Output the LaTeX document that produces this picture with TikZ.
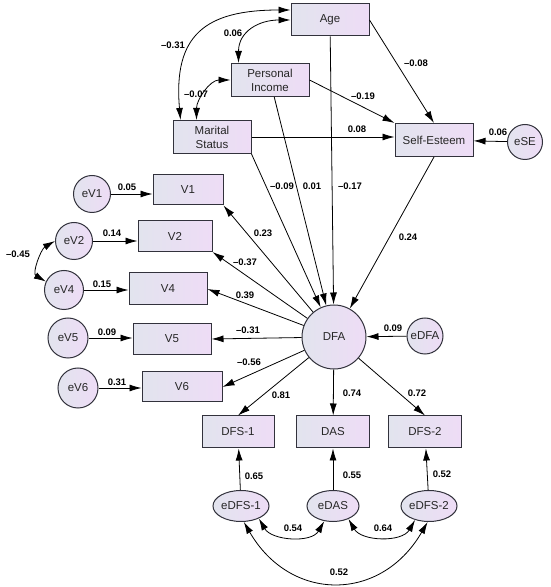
\documentclass[tikz,border=0pt]{standalone}
\usepackage{fontspec}
\setmainfont{Liberation Sans}
\usetikzlibrary{arrows.meta,shapes.geometric}
\definecolor{boxleft}{RGB}{226,228,238}
\definecolor{boxright}{RGB}{238,220,246}
\definecolor{edgegray}{RGB}{50,50,60}

\begin{document}
\begin{tikzpicture}[x=1pt, y=1pt, line width=0.8pt,
    >={Latex[length=12pt,width=7pt]},
    var/.style={draw=edgegray, line width=1pt, left color=boxleft, right color=boxright,
        text=black!85, font=\fontsize{11.5}{14}\selectfont, align=center, inner sep=0pt},
    obs/.style={var, rectangle, minimum width=78pt, minimum height=32pt},
    err/.style={var, circle, minimum size=37pt},
    res/.style={var, ellipse, minimum width=52pt, minimum height=31pt},
    coef/.style={font=\bfseries\fontsize{9.5}{10}\selectfont, inner sep=1pt}]
            \useasboundingbox (0, 0) rectangle (550, 587);
            %\draw[lightgray] (0, 0) grid[step=50] (550, 587);
            \node[obs](age) at (330, 567) {Age};
            \node[obs, minimum height=33pt](income) at (270, 507) {Personal\\Income};
            \node[obs, minimum height=33pt](marital) at (212, 450) {Marital\\Status};
            \node[obs, minimum height=33pt](esteem) at (434, 447) {Self-Esteem};
            \node[err, minimum size=35pt](ese) at (525, 445) {eSE};
            
            \node[obs, minimum width=70pt, minimum height=30pt](v1) at (188, 397) {V1};
            \node[obs, minimum width=74pt, minimum height=31pt](v2) at (175, 351) {V2};
            \node[obs](v4) at (168, 298) {V4};
            \node[obs, minimum height=31pt](v5) at (172, 248) {V5};
            \node[obs, minimum width=80pt, minimum height=30pt](v6) at (182, 200) {V6};
            \node[err](ev1) at (92, 393) {eV1};
            \node[err](ev2) at (74, 346) {eV2};
            \node[err, minimum size=39pt](ev4) at (64, 297) {eV4};
            \node[err, minimum size=40pt](ev5) at (68, 249) {eV5};
            \node[err, minimum size=40pt](ev6) at (78, 199) {eV6};
            
            \node[err, minimum size=64pt](dfa) at (334, 250) {DFA};
            \node[err, minimum size=36pt](edfa) at (425, 251) {eDFA};
            
            \node[obs, minimum width=72pt](dfs1) at (238, 155) {DFS-1};
            \node[obs, minimum width=73pt](das) at (333, 155) {DAS};
            \node[obs, minimum width=73pt](dfs2) at (425, 155) {DFS-2};
            \node[res](edfs1) at (241, 81) {eDFS-1};
            \node[res](edas) at (333, 81) {eDAS};
            \node[res](edfs2) at (429, 81) {eDFS-2};
            
            % covariances
            \draw[<->] ([xshift=8pt]marital.north west) to[out=95, in=180, looseness=1.4] ([yshift=10pt]age.west) node[coef] at (173, 542) {–0.31};
            \draw[<->] ([xshift=8pt]income.north west) to[out=90, in=180, looseness=1.2] (age.west) node[coef] at (233, 554) {0.06};
            \draw[<->] ([xshift=24pt]marital.north west) to[out=90, in=180] (income.west) node[coef] at (196, 493) {–0.07};
            \draw[<->] (ev2.west) to[out=210, in=150] (ev4.155) node[coef] at (18, 333) {–0.45};
            \draw[<->] (edfs1.-35) to[out=-60, in=-120] (edas.-120) node[coef] at (293, 59) {0.54};
            \draw[<->] (edas.-40) to[out=-60, in=-120] (edfs2.-135) node[coef] at (383, 59) {0.64};
            \draw[<->] (edfs1.-80) to[out=-60, in=-120, looseness=1.3] (edfs2.-95) node[coef] at (339, 15) {0.52};
            
            % paths into Self-Esteem and DFA
            \draw[->] (age.east) -- (esteem.north) node[coef] at (416, 524) {–0.08};
            \draw[->] (income.east) -- (esteem.north west) node[coef] at (363, 491) {–0.19};
            \draw[->] (marital.east) -- (marital.east -| esteem.west) node[coef] at (357, 458) {0.08};
            \draw[->] (ese) -- (esteem) node[coef] at (498, 455) {0.06};
            \draw[->] (marital.south east) -- (dfa) node[coef] at (282, 401) {–0.09};
            \draw[->] (income) -- (dfa) node[coef] at (312, 401) {0.01};
            \draw[->] (age) -- (dfa) node[coef] at (350, 401) {–0.17};
            \draw[->] (esteem.south) -- (dfa) node[coef] at (408, 350) {0.24};
            \draw[->] (edfa) -- (dfa) node[coef] at (393, 259) {0.09};
            
            % indicators
            \draw[->] (dfa) -- (v1.south east) node[coef] at (263, 354) {0.23};
            \draw[->] (dfa) -- (v2.south east) node[coef] at (245, 325) {–0.37};
            \draw[->] (dfa) -- (v4.east) node[coef] at (245, 292) {0.39};
            \draw[->] (dfa) -- (v5.east) node[coef] at (248, 257) {–0.31};
            \draw[->] (dfa) -- (v6.east) node[coef] at (249, 225) {–0.56};
            \draw[->] (dfa) -- (dfs1.north) node[coef] at (281, 192) {0.81};
            \draw[->] (dfa) -- (das) node[coef] at (352, 194) {0.74};
            \draw[->] (dfa) -- (dfs2.north) node[coef] at (417, 194) {0.72};
            
            % error terms
            \draw[->] (ev1) -- (ev1 -| v1.west) node[coef] at (127, 400) {0.05};
            \draw[->] (ev2) -- (ev2 -| v2.west) node[coef] at (112, 354) {0.14};
            \draw[->] (ev4) -- (ev4 -| v4.west) node[coef] at (102, 303) {0.15};
            \draw[->] (ev5) -- (ev5 -| v5.west) node[coef] at (107, 255) {0.09};
            \draw[->] (ev6) -- (ev6 -| v6.west) node[coef] at (117, 205) {0.31};
            \draw[->] (edfs1) -- (dfs1) node[coef] at (254, 111) {0.65};
            \draw[->] (edas) -- (das) node[coef] at (352, 112) {0.55};
            \draw[->] (edfs2) -- (dfs2) node[coef] at (442, 113) {0.52};
        \end{tikzpicture}
\end{document}
